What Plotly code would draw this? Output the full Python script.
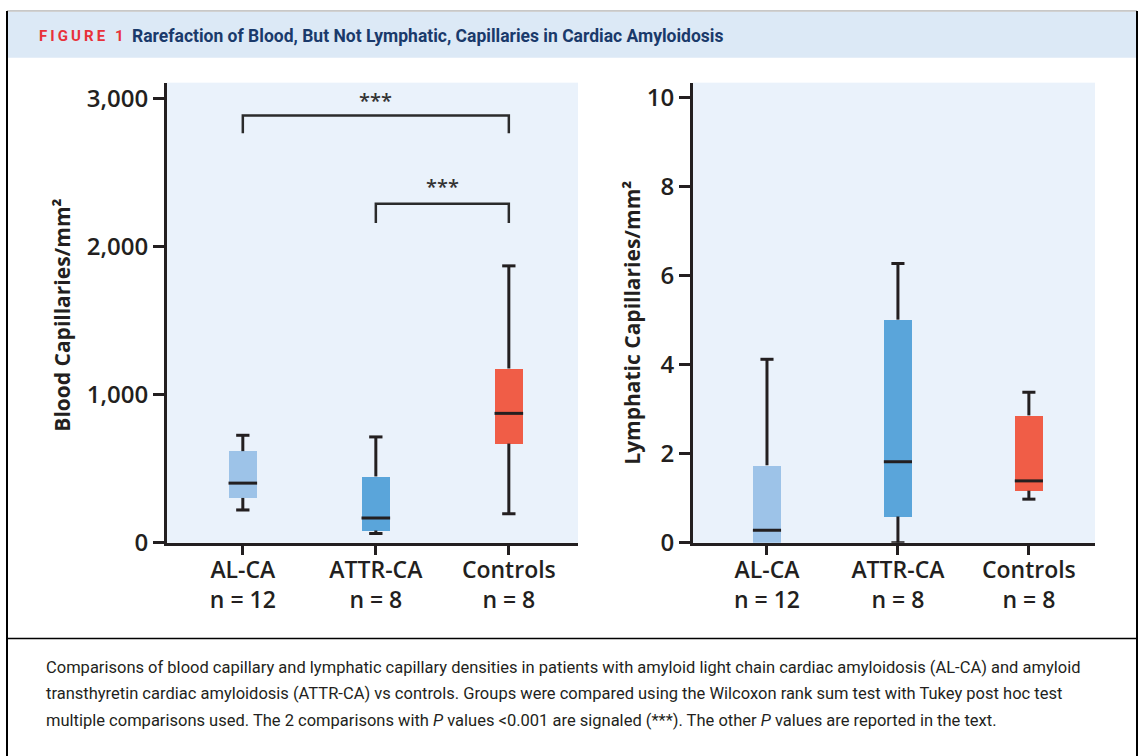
import plotly.graph_objects as go

# ---------------- data ----------------
categories = ["AL-CA", "ATTR-CA", "Controls"]
group_n = [12, 8, 8]
box_colors = ["#9dc3e8", "#5aa5da", "#f05d47"]

blood_lower = [222, 63, 197]
blood_q1 = [303, 83, 670]
blood_median = [403, 168, 874]
blood_q3 = [619, 448, 1177]
blood_upper = [726, 715, 1870]

lymph_lower = [0.0, 0.0, 0.98]
lymph_q1 = [0.0, 0.59, 1.17]
lymph_median = [0.28, 1.82, 1.39]
lymph_q3 = [1.74, 5.01, 2.86]
lymph_upper = [4.12, 6.27, 3.38]

blood_ticks = [0, 1000, 2000, 3000]
lymph_ticks = [0, 2, 4, 6, 8, 10]

sig_pairs = [(0, 2), (1, 2)]
sig_bar_y = [2885, 2290]
sig_leg_y = [2765, 2160]
sig_label_y = [2985, 2405]
sig_labels = ["***", "***"]

title_label = "FIGURE 1"
title_text = "Rarefaction of Blood, But Not Lymphatic, Capillaries in Cardiac Amyloidosis"
caption_lines = [
    "Comparisons of blood capillary and lymphatic capillary densities in patients with amyloid light chain cardiac amyloidosis (AL-CA) and amyloid",
    "transthyretin cardiac amyloidosis (ATTR-CA) vs controls. Groups were compared using the Wilcoxon rank sum test with Tukey post hoc test",
    "multiple comparisons used. The 2 comparisons with <i>P</i> values &lt;0.001 are signaled (***). The other <i>P</i> values are reported in the text.",
]

# ---------------- styling ----------------
W, H = 1142, 756
H_EFF = 741  # effective rendered height observed in the viewer
DARK = "#231f20"
FONT = "Open Sans"
BOX_W = 0.215
CAP_HW = 0.05


def px(x):
    return x / W


def py(y):
    return 1 - y / H_EFF


fig = go.Figure()


def add_panel(xa, ya, lower, q1, med, q3, upper):
    xs = list(range(len(categories)))
    fig.add_trace(go.Bar(
        x=xs, base=q1, y=[b - a for a, b in zip(q1, q3)], width=BOX_W,
        marker=dict(color=box_colors, line=dict(width=0)),
        xaxis=xa, yaxis=ya, showlegend=False, hoverinfo="skip"))
    wx, wy = [], []
    for i in xs:
        if upper[i] > q3[i]:
            wx += [i, i, None, i - CAP_HW, i + CAP_HW, None]
            wy += [q3[i], upper[i], None, upper[i], upper[i], None]
        if lower[i] < q1[i]:
            wx += [i, i, None, i - CAP_HW, i + CAP_HW, None]
            wy += [q1[i], lower[i], None, lower[i], lower[i], None]
    fig.add_trace(go.Scatter(x=wx, y=wy, mode="lines", line=dict(color=DARK, width=3),
                             xaxis=xa, yaxis=ya, showlegend=False, hoverinfo="skip",
                             cliponaxis=False))
    mx, my = [], []
    for i in xs:
        mx += [i - BOX_W / 2, i + BOX_W / 2, None]
        my += [med[i], med[i], None]
    fig.add_trace(go.Scatter(x=mx, y=my, mode="lines", line=dict(color=DARK, width=3),
                             xaxis=xa, yaxis=ya, showlegend=False, hoverinfo="skip"))


add_panel("x", "y", blood_lower, blood_q1, blood_median, blood_q3, blood_upper)
add_panel("x2", "y2", lymph_lower, lymph_q1, lymph_median, lymph_q3, lymph_upper)

# significance brackets
for (i, j), by, ly, lab_y, lab in zip(sig_pairs, sig_bar_y, sig_leg_y, sig_label_y, sig_labels):
    fig.add_trace(go.Scatter(x=[i, i, j, j], y=[ly, by, by, ly], mode="lines",
                             line=dict(color="#2b2b2b", width=2.5), xaxis="x", yaxis="y",
                             showlegend=False, hoverinfo="skip"))
    fig.add_annotation(x=(i + j) / 2, y=lab_y, xref="x", yref="y", text=lab, showarrow=False,
                       font=dict(family=FONT, size=20, color="#333333", weight=600),
                       xanchor="center", yanchor="middle")

ticktext = [f"{c}<br>n = {n}" for c, n in zip(categories, group_n)]

axis_common = dict(showline=True, linecolor=DARK, linewidth=3, ticks="outside",
                   tickcolor=DARK, tickwidth=2.5, showgrid=False, zeroline=False,
                   fixedrange=True)
tick_font = dict(family=FONT, size=23, color=DARK, weight=600)
ytick_font = dict(family=FONT, size=24, color=DARK, weight=600)

fig.update_layout(
    width=W, height=H, margin=dict(l=0, r=0, t=0, b=0),
    paper_bgcolor="white", plot_bgcolor="#eaf2fb",
    font=dict(family=FONT, color=DARK),
    bargap=0,
    xaxis=dict(domain=[px(167), px(578)], range=[-0.57, 2.52], tickvals=[0, 1, 2],
               ticktext=ticktext, ticklen=9, tickfont=tick_font, ticklabelstandoff=-4,
               anchor="y", **axis_common),
    yaxis=dict(domain=[py(542), py(80)], range=[0, 3107], tickvals=blood_ticks,
               tickformat=",", ticklen=11, tickfont=ytick_font,
               anchor="x", **axis_common),
    xaxis2=dict(domain=[px(693), px(1095)], range=[-0.565, 2.505], tickvals=[0, 1, 2],
                ticktext=ticktext, ticklen=9, tickfont=tick_font, ticklabelstandoff=-4,
                anchor="y2", **axis_common),
    yaxis2=dict(domain=[py(542), py(80)], range=[0, 10.33], tickvals=lymph_ticks,
                ticklen=11, tickfont=ytick_font,
                anchor="x2", **axis_common),
)

# y-axis titles
fig.add_annotation(x=px(62), y=py(314), xref="paper", yref="paper",
                   text="<b>Blood Capillaries/mm²</b>", textangle=-90, showarrow=False,
                   xanchor="center", yanchor="middle",
                   font=dict(family=FONT, size=21, color=DARK))
fig.add_annotation(x=px(632), y=py(321), xref="paper", yref="paper",
                   text="<b>Lymphatic Capillaries/mm²</b>", textangle=-90, showarrow=False,
                   xanchor="center", yanchor="middle",
                   font=dict(family=FONT, size=21, color=DARK))

# frame / header shapes
shapes = [
    dict(type="rect", xref="paper", yref="paper", x0=px(8), x1=px(1137), y0=py(55), y1=py(9),
         fillcolor="#dce9f6", line=dict(width=0), layer="below"),
    dict(type="line", xref="paper", yref="paper", x0=px(7), x1=px(1137), y0=py(8), y1=py(8),
         line=dict(color="#9a9a9a", width=1)),
    dict(type="line", xref="paper", yref="paper", x0=px(7), x1=px(7), y0=py(8), y1=-0.05,
         line=dict(color="black", width=2)),
    dict(type="line", xref="paper", yref="paper", x0=px(1137), x1=px(1137), y0=py(8), y1=-0.05,
         line=dict(color="black", width=2)),
    dict(type="line", xref="paper", yref="paper", x0=px(7), x1=px(1137), y0=py(638), y1=py(638),
         line=dict(color="black", width=1.5)),
]
fig.update_layout(shapes=shapes)

spaced_label = "\u2009".join(title_label)
fig.add_annotation(x=px(37), y=py(33), xref="paper", yref="paper", xanchor="left",
                   yanchor="middle",
                   text=f"<b>{spaced_label}</b>", showarrow=False,
                   font=dict(family="Roboto", size=15, color="#e8313a"))
fig.add_annotation(x=px(130), y=py(33), xref="paper", yref="paper", xanchor="left",
                   yanchor="middle",
                   text=f"<b>{title_text}</b>", showarrow=False,
                   font=dict(family="Roboto", size=17.5, color="#1a3a6b"))

for k, (line, yy) in enumerate(zip(caption_lines, [667, 693, 720])):
    fig.add_annotation(x=px(44), y=py(yy), xref="paper", yref="paper", xanchor="left",
                       yanchor="middle",
                       text=line, showarrow=False,
                       font=dict(family="Roboto", size=16.5, color="#231f20"))

fig.write_html(
    "out.html",
    config={"displayModeBar": False},
    post_script=(
        "document.documentElement.style.margin='0';"
        "document.documentElement.style.overflow='hidden';"
        "document.body.style.margin='0';"
        "document.body.style.overflow='hidden';"
    ),
)
